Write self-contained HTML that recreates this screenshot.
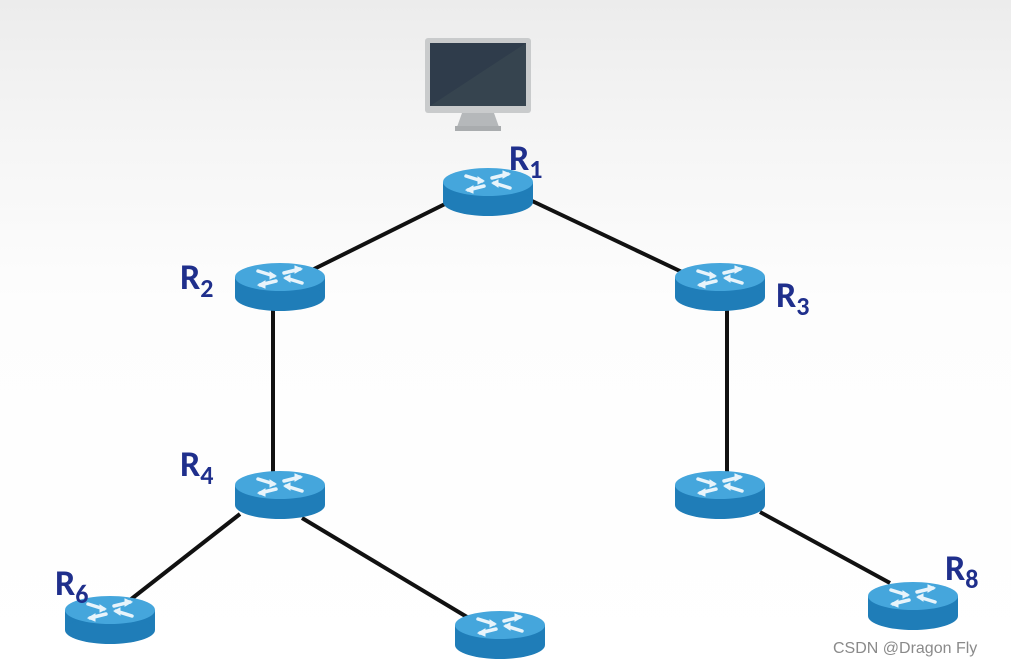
<!DOCTYPE html>
<html><head><meta charset="utf-8"><style>
html,body{margin:0;padding:0;}
body{width:1011px;height:667px;overflow:hidden;background:linear-gradient(#ececec 0px,#f6f6f6 150px,#fdfdfd 300px,#ffffff 667px);font-family:"Liberation Sans",sans-serif;}
svg{display:block;}
</style></head><body>
<svg width="1011" height="667" viewBox="0 0 1011 667" xmlns="http://www.w3.org/2000/svg">
<defs>
<g id="rt">
<rect x="-45" y="0" width="90" height="20" fill="#1f7db8"/>
<ellipse cx="0" cy="20" rx="45" ry="14" fill="#1f7db8"/>
<ellipse cx="0" cy="0" rx="45" ry="14" fill="#45a6dc"/>
<g stroke="#e8f4fb" stroke-width="3.5" stroke-linecap="round" fill="#e8f4fb">
<line x1="-22" y1="-6" x2="-6" y2="-1"/><polygon points="-4,-1 -10,-5 -10,2" stroke-width="1"/>
<line x1="22" y1="6" x2="6" y2="1"/><polygon points="4,1 10,5 10,-2" stroke-width="1"/>
<line x1="-4" y1="4" x2="-20" y2="8"/><polygon points="-22,8 -15,4 -15,11" stroke-width="1"/>
<line x1="4" y1="-4" x2="20" y2="-8"/><polygon points="22,-8 15,-4 15,-11" stroke-width="1"/>
</g>
</g>
</defs>
<g stroke="#111" stroke-width="4">
<line x1="445" y1="204" x2="312" y2="270"/>
<line x1="530" y1="200" x2="682" y2="272"/>
<line x1="273" y1="305" x2="273" y2="475"/>
<line x1="727" y1="305" x2="727" y2="475"/>
<line x1="240" y1="514" x2="130" y2="600"/>
<line x1="302" y1="518" x2="472" y2="620"/>
<line x1="760" y1="512" x2="890" y2="583"/>
</g>
<rect x="425" y="38" width="106" height="75" rx="3" fill="#c9cbcc"/>
<rect x="430" y="43" width="96" height="63" fill="#2f3c4b"/>
<polygon points="430,106 526,43 526,106" fill="#36444f"/>
<polygon points="462,113 494,113 499,127 457,127" fill="#b5b8ba"/>
<rect x="455" y="126" width="46" height="5" fill="#a9acae"/>
<use href="#rt" x="488" y="182"/>
<use href="#rt" x="280" y="277"/>
<use href="#rt" x="720" y="277"/>
<use href="#rt" x="280" y="485"/>
<use href="#rt" x="720" y="485"/>
<use href="#rt" x="110" y="610"/>
<use href="#rt" x="500" y="625"/>
<use href="#rt" x="913" y="596"/>
<g fill="#1f2f8c" font-weight="bold" font-family="Carlito,Liberation Sans,sans-serif">
<text x="509" y="170" font-size="36">R<tspan font-size="26" dy="8">1</tspan></text>
<text x="180" y="289" font-size="36">R<tspan font-size="26" dy="8">2</tspan></text>
<text x="776" y="307" font-size="36">R<tspan font-size="26" dy="8">3</tspan></text>
<text x="180" y="476" font-size="36">R<tspan font-size="26" dy="8">4</tspan></text>
<text x="55" y="595" font-size="36">R<tspan font-size="26" dy="8">6</tspan></text>
<text x="945" y="580" font-size="36">R<tspan font-size="26" dy="8">8</tspan></text>
</g>
<text x="833" y="653" font-size="16" fill="#8a8a8a" font-family="Liberation Sans,sans-serif">CSDN @Dragon Fly</text>
</svg>
</body></html>
